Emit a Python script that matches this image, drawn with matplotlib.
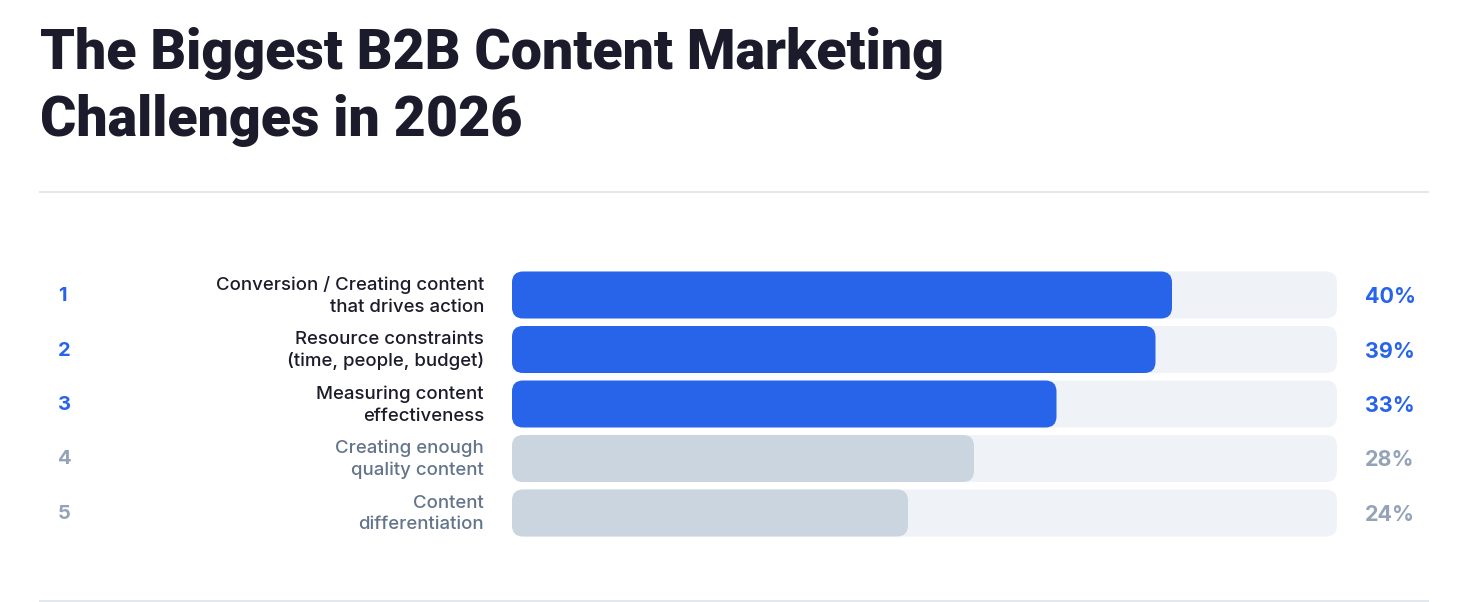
import matplotlib.pyplot as plt
from matplotlib.patches import FancyBboxPatch
from matplotlib.lines import Line2D

plt.rcParams['font.family'] = ['Inter', 'DejaVu Sans']

# data
ranks = ["1", "2", "3", "4", "5"]
labels = ["Conversion / Creating content\nthat drives action",
          "Resource constraints\n(time, people, budget)",
          "Measuring content\neffectiveness",
          "Creating enough\nquality content",
          "Content\ndifferentiation"]
values = [40, 39, 33, 28, 24]
highlight = [True, True, True, False, False]
scale_max = 50

title_lines = ["The Biggest B2B Content Marketing", "Challenges in 2026"]

W, H = 1480, 602
fig = plt.figure(figsize=(W / 100, H / 100), dpi=100)
fig.patch.set_facecolor('white')

def fx(px):
    return px / W

def fy(py):
    return 1 - py / H

# title, two lines placed on their baselines
for k, line in enumerate(title_lines):
    fig.text(fx(40), fy(69 + k * 67), line, ha='left', va='baseline', fontsize=40,
             fontweight='heavy', color='#1b1b2b', family=['Roboto', 'DejaVu Sans'])

# rules
for y in (192, 601):
    fig.add_artist(Line2D([fx(40), fx(1428)], [fy(y), fy(y)], color='#e3e8ef', lw=1.5))

# bar axes
row_px = 54.5
top = 295 - row_px / 2
bottom = 513 + row_px / 2
ax = fig.add_axes([fx(512), fy(bottom), fx(1337) - fx(512), (bottom - top) / H])
ax.set_xlim(0, scale_max)
ax.set_ylim(len(values) - 0.5, -0.5)
ax.axis('off')

bar_h = 47 / row_px
xu = scale_max / 825.0
yu = 1 / row_px
rad = 11 * xu
asp = yu / xu

for i, v in enumerate(values):
    track = FancyBboxPatch((0, i - bar_h / 2), scale_max, bar_h,
                           boxstyle=f"round,pad=0,rounding_size={rad}",
                           mutation_aspect=asp, fc='#eff3f8', ec='none')
    ax.add_patch(track)
    bar = FancyBboxPatch((0, i - bar_h / 2), v, bar_h,
                         boxstyle=f"round,pad=0,rounding_size={rad}",
                         mutation_aspect=asp,
                         fc='#2764ea' if highlight[i] else '#cbd5e0', ec='none')
    ax.add_patch(bar)

    yc = 295 + i * row_px
    num_c = '#2764ea' if highlight[i] else '#94a3b8'
    lab_c = '#1b1b2b' if highlight[i] else '#64748b'
    fig.text(fx(58), fy(yc + 1), ranks[i], ha='left', va='center', fontsize=14.5,
             fontweight='bold', color=num_c)
    fig.text(fx(484), fy(yc + 1), labels[i], ha='right', va='center', fontsize=13.4,
             fontweight='medium', color=lab_c, linespacing=1.35)
    fig.text(fx(1365), fy(yc + 2), f"{v}%", ha='left', va='center', fontsize=15.5,
             fontweight='bold', color=num_c)

fig.savefig('out.png', dpi=100, facecolor='white')
